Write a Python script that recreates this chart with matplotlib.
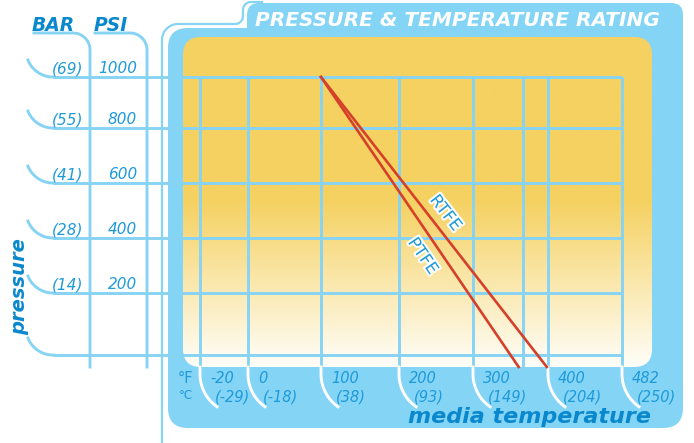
import numpy as np
import matplotlib
matplotlib.use("Agg")
import matplotlib.pyplot as plt
import matplotlib.transforms as mtransforms
import matplotlib.patheffects as pe
from matplotlib.patches import FancyBboxPatch
from matplotlib.colors import to_rgb

# ---------------- data ----------------
psi_ticks = [0, 200, 400, 600, 800, 1000]
bar_labels = ["", "(14)", "(28)", "(41)", "(55)", "(69)"]
psi_labels = ["", "200", "400", "600", "800", "1000"]
temp_f = [-20, 0, 100, 200, 300, 400, 482]
temp_f_labels = ["-20", "0", "100", "200", "300", "400", "482"]
temp_c_labels = ["(-29)", "(-18)", "(38)", "(93)", "(149)", "(204)", "(250)"]
extra_grid_f = [367]
ptfe_temp = [100, 350]
ptfe_psi = [1000, 0]
rtfe_temp = [100, 386]
rtfe_psi = [1000, 0]

# ---------------- layout (pixel canvas 694x443) ----------------
W, H = 694, 443
X_PX = [200, 248, 321, 399, 473, 548, 622]   # pixel x of temp_f ticks
Y_PX = [355, 293, 238, 183, 128, 77]         # pixel y of psi_ticks

BLUE_PANEL = '#84D4F6'
GRID = '#87D3F4'
TXT = '#1E9ADA'
TXT_DARK = '#0A88CD'
RED = '#D5402A'


def piecewise(xs, ys):
    xs = np.asarray(xs, float)
    ys = np.asarray(ys, float)
    s0 = (ys[1] - ys[0]) / (xs[1] - xs[0])
    s1 = (ys[-1] - ys[-2]) / (xs[-1] - xs[-2])

    def f(v):
        v = np.asarray(v, float)
        out = np.interp(v, xs, ys)
        out = np.where(v < xs[0], ys[0] + (v - xs[0]) * s0, out)
        out = np.where(v > xs[-1], ys[-1] + (v - xs[-1]) * s1, out)
        return out
    return f


fx = piecewise(temp_f, X_PX)
fxi = piecewise(X_PX, temp_f)
yfw = H - np.array(Y_PX, float)
fy = piecewise(psi_ticks, yfw)
fyi = piecewise(yfw, psi_ticks)

fig = plt.figure(figsize=(W / 100, H / 100), dpi=100)
bg = fig.add_axes([0, 0, 1, 1], zorder=0)
bg.set_xlim(0, W)
bg.set_ylim(H, 0)
bg.axis('off')
P = bg.transData


def rbox(x, y, w, h, r, **kw):
    return FancyBboxPatch((x, y), w, h, boxstyle=f"round,pad=0,rounding_size={r}", **kw)


def arc(cx, cy, r, t0, t1, n=40):
    t = np.radians(np.linspace(t0, t1, n))
    return np.column_stack([cx + r * np.cos(t), cy + r * np.sin(t)])


# blue panel + title tab
bg.add_patch(rbox(168, 28, 515, 400, 20, fc=BLUE_PANEL, ec='none', zorder=1))
bg.add_patch(rbox(247, 3, 436, 60, 12, fc=BLUE_PANEL, ec='none', zorder=1))

# orange gradient
ys = np.arange(37, 368)
top = np.array(to_rgb('#F5D161'))
bot = np.array(to_rgb('#FFFEF9'))
frac = np.clip((ys - 200) / (367 - 200), 0, 1)
img = (top[None, :] * (1 - frac[:, None]) + bot[None, :] * frac[:, None])[:, None, :]
im = bg.imshow(img, extent=(183, 652, 367, 37), aspect='auto',
               interpolation='bilinear', zorder=2)
clip = rbox(183, 37, 469, 330, 18, transform=P, fc='none', ec='none')
bg.add_patch(clip)
im.set_clip_path(clip)
bg.set_xlim(0, W)
bg.set_ylim(H, 0)

# thin outline around panel
outline = np.vstack([[[162, 443]], arc(178, 40, 16, 180, 270),
                     arc(235, 16, 8, 90, 0), arc(251, 10, 8, 180, 270), [[262, 2]]])
bg.plot(outline[:, 0], outline[:, 1], color=GRID, lw=1.6, zorder=3)

# ---------------- data axes ----------------
ax = fig.add_axes([0, 0, 1, 1], zorder=1)
ax.set_xscale('function', functions=(fx, fxi))
ax.set_yscale('function', functions=(fy, fyi))
ax.set_xlim(float(fxi(0)), float(fxi(W)))
ax.set_ylim(float(fyi(0)), float(fyi(H)))
ax.axis('off')

to_px = lambda xy: P.inverted().transform(ax.transData.transform(xy))

LW = 2.1
x_left = float(fxi(53))
psi_bottom = float(fyi(H - 367))
# horizontal grid lines
for p in psi_ticks:
    ax.plot([x_left, temp_f[-1]], [p, p], color=GRID, lw=LW, solid_capstyle='butt', zorder=2)
    py = to_px((temp_f[0], p))[1]
    hk = arc(53, py - 27, 27, 158, 90)
    ax.plot(hk[:, 0], hk[:, 1], color=GRID, lw=LW, transform=P, zorder=2)
# vertical grid lines
for t in temp_f + extra_grid_f:
    ax.plot([t, t], [psi_ticks[-1], psi_bottom], color=GRID, lw=LW,
            solid_capstyle='butt', zorder=2)
for t in temp_f:
    px = to_px((t, 0))[0]
    hk = np.vstack([[[px, 367]], arc(px + 40, 374, 40, 180, 125)])
    ax.plot(hk[:, 0], hk[:, 1], color='white', lw=LW, transform=P, zorder=2)

# BAR / PSI header curves
for x0, xa in [(34, 73), (95, 130)]:
    c = np.vstack([[[x0, 33]], arc(xa, 50, 17, 270, 360), [[xa + 17, 367]]])
    ax.plot(c[:, 0], c[:, 1], color=GRID, lw=LW, transform=P, zorder=2)

# red rating lines (extended to the bottom of the coloured field)
for temps, psis, name, side, sfrac, off in [
        (rtfe_temp, rtfe_psi, 'RTFE', 1, 0.5, 15),
        (ptfe_temp, ptfe_psi, 'PTFE', -1, 0.585, 16.5)]:
    p0 = to_px((temps[0], psis[0]))
    p1 = to_px((temps[1], psis[1]))
    s = (367 - p0[1]) / (p1[1] - p0[1])
    pe_px = p0 + (p1 - p0) * s
    end = ax.transData.inverted().transform(P.transform(pe_px))
    ax.plot([temps[0], end[0]], [psis[0], end[1]], color=RED, lw=1.9, zorder=4)
    d = (pe_px - p0) / np.hypot(*(pe_px - p0))
    n = np.array([d[1], -d[0]]) * side
    c = p0 + (pe_px - p0) * sfrac + n * off
    ang = np.degrees(np.arctan2(-d[1], d[0]))
    ax.text(c[0], c[1], name, transform=P, rotation=ang, rotation_mode='anchor',
            ha='center', va='center', fontsize=12, color=TXT, zorder=5,
            path_effects=[pe.withStroke(linewidth=3, foreground='white')])

# left tick labels
TL = mtransforms.blended_transform_factory(P, ax.transData)
TLo = mtransforms.offset_copy(TL, fig=fig, x=0, y=4, units='dots')
for p, bl, pl in zip(psi_ticks, bar_labels, psi_labels):
    if bl:
        ax.text(83, p, bl, transform=TLo, ha='right', va='baseline',
                fontsize=11, style='italic', color=TXT)
    if pl:
        ax.text(137, p, pl, transform=TLo, ha='right', va='baseline',
                fontsize=11, style='italic', color=TXT)

# bottom tick labels
TB = mtransforms.blended_transform_factory(ax.transData, P)
TBf = mtransforms.offset_copy(TB, fig=fig, x=10, y=0, units='dots')
TBc = mtransforms.offset_copy(TB, fig=fig, x=15, y=0, units='dots')
for t, fl, cl in zip(temp_f, temp_f_labels, temp_c_labels):
    ax.text(t, 383, fl, transform=TBf, ha='left', va='baseline',
            fontsize=10.5, style='italic', color=TXT)
    ax.text(t, 401, cl, transform=TBc, ha='left', va='baseline',
            fontsize=10.5, style='italic', color=TXT)
ax.text(178, 383, '°F', transform=P, ha='left', va='baseline',
        fontsize=10.5, color=TXT)
ax.text(179, 399, '°C', transform=P, ha='left', va='baseline',
        fontsize=8.5, color=TXT)

# titles
ax.text(255, 20, 'PRESSURE & TEMPERATURE RATING', transform=P, ha='left', va='center',
        fontsize=14.5, fontweight='bold', style='italic', color='white')
ax.text(32, 31, 'BAR', transform=P, ha='left', va='baseline',
        fontsize=13.5, fontweight='bold', style='italic', color=TXT_DARK)
ax.text(94, 31, 'PSI', transform=P, ha='left', va='baseline',
        fontsize=13.5, fontweight='bold', style='italic', color=TXT_DARK)
ax.text(20, 287, 'pressure', transform=P, ha='center', va='center', rotation=90,
        fontsize=14, fontweight='bold', style='italic', color=TXT_DARK)
ax.text(408, 417, 'media temperature', transform=P, ha='left', va='center',
        fontsize=16, fontweight='bold', style='italic', color=TXT_DARK)

fig.savefig('out.png', dpi=100)
